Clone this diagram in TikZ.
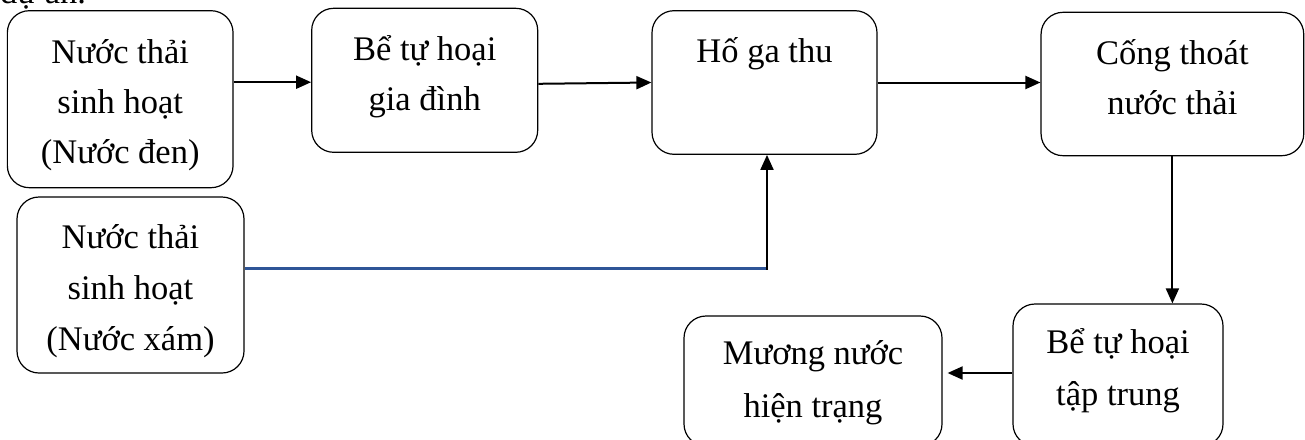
\documentclass[tikz,border=0pt]{standalone}
\usepackage{fontspec}
\setmainfont{Liberation Serif}
\usetikzlibrary{arrows.meta}
\definecolor{pipeblue}{RGB}{47,85,151}
\tikzset{
  box/.style={draw=black, line width=1.2pt, rounded corners=22pt, inner sep=0pt},
  txt/.style={anchor=base, inner sep=0pt, font=\fontsize{34.5}{40}\selectfont},
  arr/.style={draw=black, line width=2pt, -{Triangle[length=15pt,width=13pt]}},
  pipe/.style={draw=pipeblue, line width=3pt},
}
\begin{document}
\begin{tikzpicture}[x=1pt,y=-1pt]
\useasboundingbox (0,0) rectangle (1305,439);
\clip (0,0) rectangle (1305,439);
\fill[white] (0,0) rectangle (1305,439);

% tail of the preceding sentence
\node[anchor=base west, inner sep=0pt, font=\fontsize{34.5}{40}\selectfont] (cut) at (0,3) {dự án.};

% boxes
\node[box, minimum width=225.7pt, minimum height=177pt]   (b1) at (120.2,99.2) {};
\node[box, minimum width=226pt,   minimum height=144pt]   (b2) at (424.7,80.3) {};
\node[box, minimum width=225pt,   minimum height=143.6pt] (b3) at (764.5,82.5) {};
\node[box, minimum width=262.7pt, minimum height=143.4pt] (b4) at (1172.4,84)  {};
\node[box, minimum width=227pt,   minimum height=176pt]   (b5) at (130.5,285)  {};
\node[box, minimum width=258pt,   minimum height=130pt]   (b6) at (813,381)    {};
\node[box, minimum width=210pt,   minimum height=142pt]   (b7) at (1118,375)   {};

% labels
\node[txt] (t1a) at (120.2,63)  {Nước thải};
\node[txt] (t1b) at (120.2,113) {sinh hoạt};
\node[txt] (t1c) at (120.2,163) {(Nước đen)};
\node[txt] (t2a) at (424.7,60)  {Bể tự hoại};
\node[txt] (t2b) at (424.7,110) {gia đình};
\node[txt] (t3a) at (764.5,62)  {Hố ga thu};
\node[txt] (t4a) at (1172.4,64) {Cống thoát};
\node[txt] (t4b) at (1172.4,114) {nước thải};
\node[txt] (t5a) at (130.5,248) {Nước thải};
\node[txt] (t5b) at (130.5,299) {sinh hoạt};
\node[txt] (t5c) at (130.5,350) {(Nước xám)};
\node[txt] (t6a) at (813,364)   {Mương nước};
\node[txt] (t6b) at (813,417)   {hiện trạng};
\node[txt] (t7a) at (1118,353)  {Bể tự hoại};
\node[txt] (t7b) at (1118,405)  {tập trung};

% connectors
\draw[arr] ([yshift=17pt]b1.east) -- ([yshift=17pt]b1.east -| b2.west);
\draw[arr] ([yshift=-3.5pt]b2.east) -- (b3.west);
\draw[arr] (b3.east) -- (b3.east -| b4.west);
\draw[arr] (b4.south) -- (b4.south |- b7.north);
\draw[arr, shorten >=5pt] ([yshift=2pt]b7.west) -- ([yshift=2pt]b7.west -| b6.east);

\coordinate (bend) at (767,268);
\draw[pipe] ([yshift=17pt]b5.east) -- (bend);
\draw[arr] ([yshift=-1.5pt]bend) -- (bend |- b3.south);
\end{tikzpicture}
\end{document}
